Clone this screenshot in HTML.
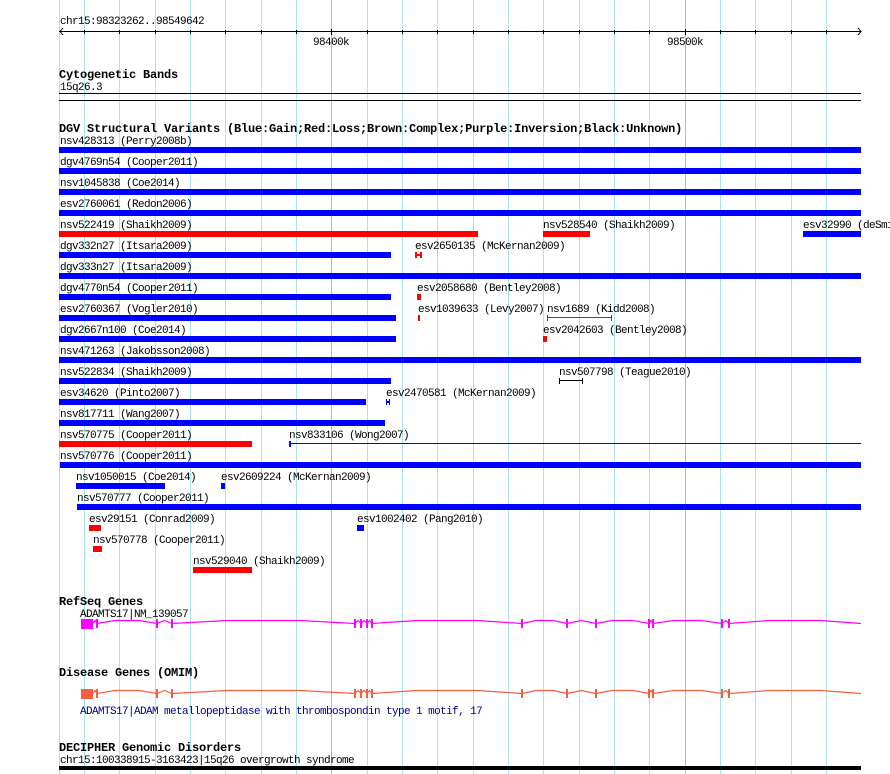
<!DOCTYPE html>
<html><head><meta charset="utf-8"><style>
html,body{margin:0;padding:0;background:#fff}
svg{display:block}
text{font-family:"Liberation Mono",monospace;font-size:11px;letter-spacing:-0.6px;fill:#000}
.b{font-weight:bold;font-size:12px;letter-spacing:-0.2px}
</style></head><body>
<svg width="890" height="774" viewBox="0 0 890 774" xmlns="http://www.w3.org/2000/svg" shape-rendering="crispEdges">
<g stroke="#a8e4ec" stroke-width="1">
<line x1="59.5" y1="0" x2="59.5" y2="774"/>
<line x1="84.5" y1="0" x2="84.5" y2="774"/><line x1="119.5" y1="0" x2="119.5" y2="774"/><line x1="155.5" y1="0" x2="155.5" y2="774"/><line x1="190.5" y1="0" x2="190.5" y2="774"/><line x1="225.5" y1="0" x2="225.5" y2="774"/><line x1="261.5" y1="0" x2="261.5" y2="774"/><line x1="296.5" y1="0" x2="296.5" y2="774"/>
<line x1="367.5" y1="0" x2="367.5" y2="774"/><line x1="402.5" y1="0" x2="402.5" y2="774"/><line x1="437.5" y1="0" x2="437.5" y2="774"/><line x1="473.5" y1="0" x2="473.5" y2="774"/><line x1="508.5" y1="0" x2="508.5" y2="774"/><line x1="543.5" y1="0" x2="543.5" y2="774"/><line x1="579.5" y1="0" x2="579.5" y2="774"/><line x1="614.5" y1="0" x2="614.5" y2="774"/><line x1="649.5" y1="0" x2="649.5" y2="774"/>
<line x1="720.5" y1="0" x2="720.5" y2="774"/><line x1="755.5" y1="0" x2="755.5" y2="774"/><line x1="791.5" y1="0" x2="791.5" y2="774"/><line x1="826.5" y1="0" x2="826.5" y2="774"/>
</g>
<g stroke="#8cc8e4"><line x1="331.5" y1="0" x2="331.5" y2="774"/><line x1="685.5" y1="0" x2="685.5" y2="774"/></g>

<text x="60" y="24">chr15:98323262..98549642</text>
<g stroke="#000">
<line x1="59" y1="31.5" x2="861" y2="31.5"/>
<polyline points="63,28 60,31.5 63,35" fill="none"/>
<polyline points="858,28 861,31.5 858,35" fill="none"/>
<g>
<line x1="84.5" y1="30" x2="84.5" y2="34"/><line x1="119.5" y1="30" x2="119.5" y2="34"/><line x1="155.5" y1="30" x2="155.5" y2="34"/><line x1="190.5" y1="30" x2="190.5" y2="34"/><line x1="225.5" y1="30" x2="225.5" y2="34"/><line x1="261.5" y1="30" x2="261.5" y2="34"/><line x1="296.5" y1="30" x2="296.5" y2="34"/><line x1="331.5" y1="29" x2="331.5" y2="35"/><line x1="367.5" y1="30" x2="367.5" y2="34"/><line x1="402.5" y1="30" x2="402.5" y2="34"/><line x1="437.5" y1="30" x2="437.5" y2="34"/><line x1="473.5" y1="30" x2="473.5" y2="34"/><line x1="508.5" y1="30" x2="508.5" y2="34"/><line x1="543.5" y1="30" x2="543.5" y2="34"/><line x1="579.5" y1="30" x2="579.5" y2="34"/><line x1="614.5" y1="30" x2="614.5" y2="34"/><line x1="649.5" y1="30" x2="649.5" y2="34"/><line x1="685.5" y1="29" x2="685.5" y2="35"/><line x1="720.5" y1="30" x2="720.5" y2="34"/><line x1="755.5" y1="30" x2="755.5" y2="34"/><line x1="791.5" y1="30" x2="791.5" y2="34"/><line x1="826.5" y1="30" x2="826.5" y2="34"/>
</g></g>
<text x="313" y="45">98400k</text>
<text x="667" y="45">98500k</text>

<text x="59" y="78" class="b">Cytogenetic Bands</text>
<text x="60" y="90">15q26.3</text>
<rect x="59" y="93" width="802" height="1" fill="#000"/>
<rect x="59" y="100" width="802" height="1" fill="#000"/>

<text x="59" y="132" class="b">DGV Structural Variants (Blue:Gain;Red:Loss;Brown:Complex;Purple:Inversion;Black:Unknown)</text>
<g>
<text x="60" y="144">nsv428313 (Perry2008b)</text><rect x="59" y="147" width="802" height="6" fill="#00f"/>
<text x="60" y="165">dgv4769n54 (Cooper2011)</text><rect x="59" y="168" width="802" height="6" fill="#00f"/>
<text x="60" y="186">nsv1045838 (Coe2014)</text><rect x="59" y="189" width="802" height="6" fill="#00f"/>
<text x="60" y="207">esv2760061 (Redon2006)</text><rect x="59" y="210" width="802" height="6" fill="#00f"/>
<text x="60" y="228">nsv522419 (Shaikh2009)</text><rect x="59" y="231" width="419" height="6" fill="#f00"/>
<text x="543" y="228">nsv528540 (Shaikh2009)</text><rect x="543" y="231" width="47" height="6" fill="#f00"/>
<text x="803" y="228">esv32990 (deSmith2007)</text><rect x="803" y="231" width="58" height="6" fill="#00f"/>
<text x="60" y="249">dgv332n27 (Itsara2009)</text><rect x="59" y="252" width="332" height="6" fill="#00f"/>
<text x="415" y="249">esv2650135 (McKernan2009)</text>
<g fill="#f00"><rect x="415" y="252" width="2" height="6"/><rect x="420" y="252" width="2" height="6"/><rect x="415" y="254" width="7" height="2"/></g>
<text x="60" y="270">dgv333n27 (Itsara2009)</text><rect x="59" y="273" width="802" height="6" fill="#00f"/>
<text x="60" y="291">dgv4770n54 (Cooper2011)</text><rect x="59" y="294" width="332" height="6" fill="#00f"/>
<text x="417" y="291">esv2058680 (Bentley2008)</text><rect x="417" y="294" width="4" height="6" fill="#f00"/>
<text x="60" y="312">esv2760367 (Vogler2010)</text><rect x="59" y="315" width="337" height="6" fill="#00f"/>
<text x="418" y="312">esv1039633 (Levy2007)</text><rect x="418" y="315" width="2" height="6" fill="#f00"/>
<text x="547" y="312">nsv1689 (Kidd2008)</text>
<g fill="#f00"><rect x="547" y="315" width="1" height="6"/><rect x="611" y="315" width="1" height="6"/><rect x="547" y="317" width="65" height="1"/></g>
<text x="60" y="333">dgv2667n100 (Coe2014)</text><rect x="59" y="336" width="337" height="6" fill="#00f"/>
<text x="543" y="333">esv2042603 (Bentley2008)</text><rect x="543" y="336" width="4" height="6" fill="#f00"/>
<text x="60" y="354">nsv471263 (Jakobsson2008)</text><rect x="59" y="357" width="802" height="6" fill="#00f"/>
<text x="60" y="375">nsv522834 (Shaikh2009)</text><rect x="59" y="378" width="332" height="6" fill="#00f"/>
<text x="559" y="375">nsv507798 (Teague2010)</text>
<g fill="#000"><rect x="559" y="378" width="1" height="6"/><rect x="582" y="378" width="1" height="6"/><rect x="559" y="380" width="24" height="1"/></g>
<text x="60" y="396">esv34620 (Pinto2007)</text><rect x="59" y="399" width="307" height="6" fill="#00f"/>
<text x="386" y="396">esv2470581 (McKernan2009)</text>
<g fill="#00f"><rect x="386" y="399" width="1" height="6"/><rect x="389" y="399" width="1" height="6"/><rect x="386" y="401" width="4" height="2"/></g>
<text x="60" y="417">nsv817711 (Wang2007)</text><rect x="59" y="420" width="326" height="6" fill="#00f"/>
<text x="60" y="438">nsv570775 (Cooper2011)</text><rect x="59" y="441" width="193" height="6" fill="#f00"/>
<text x="289" y="438">nsv833106 (Wong2007)</text>
<g fill="#00f"><rect x="289" y="441" width="2" height="6"/><rect x="289" y="443" width="572" height="1"/></g>
<text x="60" y="459">nsv570776 (Cooper2011)</text><rect x="60" y="462" width="801" height="6" fill="#00f"/>
<text x="76" y="480">nsv1050015 (Coe2014)</text><rect x="76" y="483" width="89" height="6" fill="#00f"/>
<text x="221" y="480">esv2609224 (McKernan2009)</text><rect x="221" y="483" width="4" height="6" fill="#00f"/>
<text x="77" y="501">nsv570777 (Cooper2011)</text><rect x="77" y="504" width="784" height="6" fill="#00f"/>
<text x="89" y="522">esv29151 (Conrad2009)</text><rect x="89" y="525" width="12" height="6" fill="#f00"/>
<text x="357" y="522">esv1002402 (Pang2010)</text><rect x="357" y="525" width="7" height="6" fill="#00f"/>
<text x="93" y="543">nsv570778 (Cooper2011)</text><rect x="93" y="546" width="9" height="6" fill="#f00"/>
<text x="193" y="564">nsv529040 (Shaikh2009)</text><rect x="193" y="567" width="59" height="6" fill="#f00"/>
</g>

<text x="59" y="605" class="b">RefSeq Genes</text>
<text x="80" y="617">ADAMTS17|NM_139057</text>
<g shape-rendering="auto">
<rect x="81" y="619" width="12" height="10" fill="#f0f"/>
<polyline fill="none" stroke="#f0f" stroke-width="1.2" points="93,623.5 95,620.5 97,623.5 115,620.5 139,620.5 157,623.5 164.5,620.5 172,623.5 227,620.5 300,620.5 355,623.5 358,620.5 361,623.5 364,620.5 367,623.5 369.5,620.5 372,623.5 417,620.5 477,620.5 522,623.5 536,620.5 553,620.5 567,623.5 581.5,620.5 596,623.5 612,620.5 633,620.5 649,623.5 651,620.5 653,623.5 674,620.5 701,620.5 722,623.5 725.5,620.5 729,623.5 769,620.5 821,620.5 861,623.5"/>
</g>
<g fill="#f0f">
<rect x="96" y="619" width="2" height="9"/><rect x="156" y="619" width="2" height="9"/><rect x="171" y="619" width="2" height="9"/><rect x="354" y="619" width="2" height="9"/><rect x="360" y="619" width="2" height="9"/><rect x="366" y="619" width="2" height="9"/><rect x="371" y="619" width="2" height="9"/><rect x="521" y="619" width="2" height="9"/><rect x="566" y="619" width="2" height="9"/><rect x="595" y="619" width="2" height="9"/><rect x="648" y="619" width="2" height="9"/><rect x="652" y="619" width="2" height="9"/><rect x="721" y="619" width="2" height="9"/><rect x="728" y="619" width="2" height="9"/>
</g>

<text x="59" y="676" class="b">Disease Genes (OMIM)</text>
<g shape-rendering="auto">
<rect x="81" y="689" width="12" height="10" fill="#f65e3e"/>
<polyline fill="none" stroke="#f65e3e" stroke-width="1.2" points="93,693.5 95,690.5 97,693.5 115,690.5 139,690.5 157,693.5 164.5,690.5 172,693.5 227,690.5 300,690.5 355,693.5 358,690.5 361,693.5 364,690.5 367,693.5 369.5,690.5 372,693.5 417,690.5 477,690.5 522,693.5 536,690.5 553,690.5 567,693.5 581.5,690.5 596,693.5 612,690.5 633,690.5 649,693.5 651,690.5 653,693.5 674,690.5 701,690.5 722,693.5 725.5,690.5 729,693.5 769,690.5 821,690.5 861,693.5"/>
</g>
<g fill="#f65e3e">
<rect x="96" y="689" width="2" height="9"/><rect x="156" y="689" width="2" height="9"/><rect x="171" y="689" width="2" height="9"/><rect x="354" y="689" width="2" height="9"/><rect x="360" y="689" width="2" height="9"/><rect x="366" y="689" width="2" height="9"/><rect x="371" y="689" width="2" height="9"/><rect x="521" y="689" width="2" height="9"/><rect x="566" y="689" width="2" height="9"/><rect x="595" y="689" width="2" height="9"/><rect x="648" y="689" width="2" height="9"/><rect x="652" y="689" width="2" height="9"/><rect x="721" y="689" width="2" height="9"/><rect x="728" y="689" width="2" height="9"/>
</g>
<text x="80" y="714" style="fill:#00008b">ADAMTS17|ADAM metallopeptidase with thrombospondin type 1 motif, 17</text>

<text x="59" y="751" class="b">DECIPHER Genomic Disorders</text>
<text x="60" y="763">chr15:100338915-3163423|15q26 overgrowth syndrome</text>
<rect x="59" y="766" width="802" height="4" fill="#000"/>
</svg>
</body></html>
